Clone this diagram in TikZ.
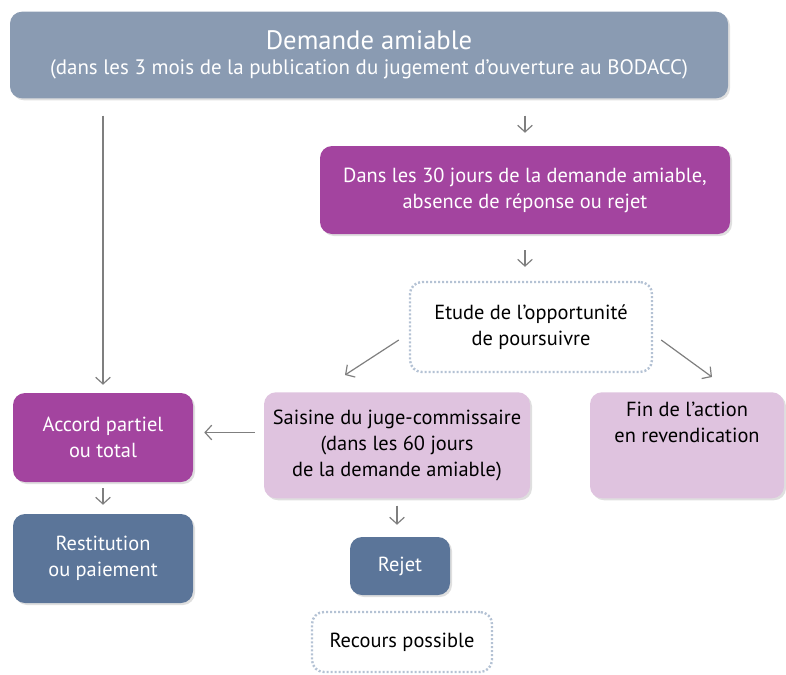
\documentclass[tikz,border=0pt]{standalone}
\usepackage{fontspec}
\setmainfont{PT Sans}
\usetikzlibrary{arrows.meta,calc,shadows}

\definecolor{topblue}{HTML}{8A9BB2}
\definecolor{plum}{HTML}{A3449F}
\definecolor{lightplum}{HTML}{DFC3DF}
\definecolor{darkblue}{HTML}{5B7599}
\definecolor{dotline}{HTML}{B4C2D4}
\definecolor{arrowgray}{HTML}{7F7F7F}

\begin{document}
\begin{tikzpicture}[x=0.75pt, y=-0.75pt,
    box/.style = {rounded corners=9pt, align=center, inner sep=2pt,
        drop shadow={opacity=0.25, shadow xshift=1.5pt, shadow yshift=-1.5pt}},
    greybox/.style = {box, fill=topblue, text=white},
    plumbox/.style = {box, fill=plum, text=white},
    pinkbox/.style = {box, fill=lightplum, text=black},
    bluebox/.style = {box, fill=darkblue, text=white},
    dotbox/.style = {rounded corners=9pt, align=center, draw=dotline,
        line width=1.8pt, dash pattern=on 1.5pt off 1.5pt, fill=white},
    arr/.style = {draw=arrowgray, line width=0.9pt,
        -{Straight Barb[length=5pt, width=11pt]}},
    every node/.style = {font=\fontsize{15.3}{19.5}\selectfont}]

    \useasboundingbox (0,0) rectangle (786,675);

    \node[greybox, minimum width=538.5pt, minimum height=65pt] (dem) at (369,55)
        {{\fontsize{20}{22}\selectfont Demande amiable}\\[-1pt]
         {\fontsize{15.7}{18}\selectfont (dans les 3 mois de la publication du jugement d’ouverture au BODACC)}};
    \node[plumbox, minimum width=307.5pt, minimum height=66pt] (d30) at (525,190)
        {Dans les 30 jours de la demande amiable,\\absence de réponse ou rejet};
    \node[dotbox, minimum width=181.5pt, minimum height=67.5pt] (etu) at (531,327)
        {Etude de l’opportunité\\de poursuivre};
    \node[plumbox, minimum width=135pt, minimum height=66.75pt] (acc) at (103,437.5)
        {Accord partiel\\ou total};
    \node[pinkbox, minimum width=199.5pt, minimum height=79.5pt, anchor=north] (sai) at (397,392)
        {Saisine du juge-commissaire\\(dans les 60 jours\\de la demande amiable)};
    \node[pinkbox, minimum width=145.5pt, minimum height=79.5pt, anchor=north,
        text depth=34pt] (fin) at (687,392)
        {Fin de l’action\\en revendication};
    \node[bluebox, minimum width=135pt, minimum height=66.75pt] (res) at (103,558.5)
        {Restitution\\ou paiement};
    \node[bluebox, minimum width=75pt, minimum height=43.5pt] (rej) at (400,566)
        {Rejet};
    \node[dotbox, minimum width=135pt, minimum height=45pt] (rec) at (402,642)
        {Recours possible};

    % connectors
    \draw[arr, shorten <=12.75pt, shorten >=6pt] (dem.south -| acc.north) -- (acc.north);
    \draw[arr, shorten <=12.75pt, shorten >=9.75pt] (dem.south -| d30.north) -- (d30.north);
    \draw[arr, shorten <=12pt, shorten >=10.5pt] (d30.south) -- (etu.north -| d30.south);
    \draw[arr] ($(etu.west)+(-10,13)$) -- ($(sai.north)+(-52,-17)$);
    \draw[arr] ($(etu.east)+(8,13)$) -- ($(fin.north)+(25,-15)$);
    \draw[arr, shorten <=6.75pt, shorten >=8.25pt] ([yshift=3.75pt]acc.east -| sai.west) -- ([yshift=3.75pt]acc.east);
    \draw[arr, shorten <=4.5pt, shorten >=6.75pt] (acc.south) -- (res.north);
    \draw[arr, shorten <=5.25pt, shorten >=9pt] (sai.south) -- (sai.south |- rej.north);

\end{tikzpicture}
\end{document}
